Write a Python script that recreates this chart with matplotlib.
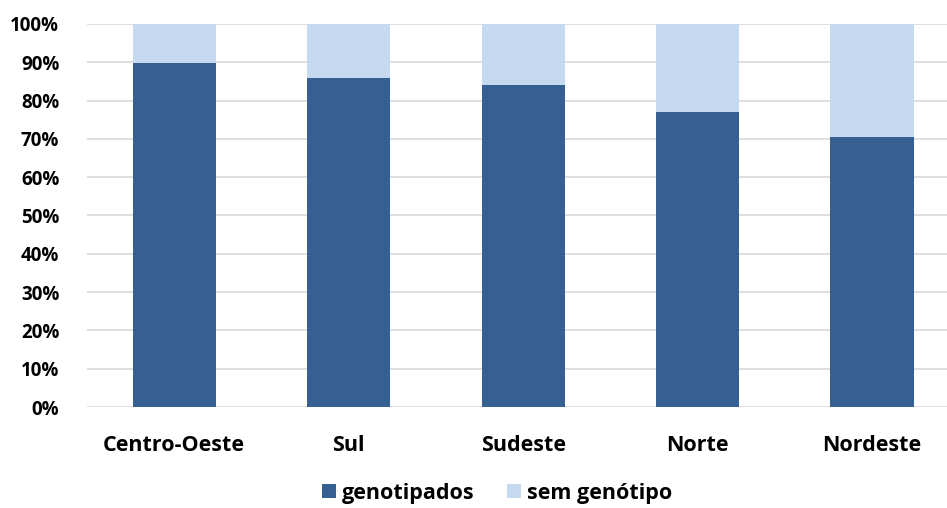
import matplotlib.pyplot as plt
import numpy as np

regioes = ['Centro-Oeste', 'Sul', 'Sudeste', 'Norte', 'Nordeste']
genotipados = [89.8, 85.9, 84.1, 77.0, 70.5]
sem_genotipo = [100 - v for v in genotipados]

plt.rcParams['font.family'] = ['Open Sans', 'DejaVu Sans']
plt.rcParams['font.weight'] = 'bold'

fig = plt.figure(figsize=(9.47, 5.08), dpi=100)
ax = fig.add_axes([0.0919, 0.1988, 0.921, 0.754])

x = np.arange(len(regioes))
ax.bar(x, genotipados, width=0.476, color='#366092', label='genotipados', zorder=3)
ax.bar(x, sem_genotipo, width=0.476, bottom=genotipados, color='#C5D9F1',
       label='sem genótipo', zorder=3)

ax.set_xlim(-0.5, len(regioes) - 0.5)
ax.set_ylim(0, 100)
ax.set_yticks(range(0, 101, 10))
ax.set_yticklabels([f'{v}%' for v in range(0, 101, 10)], fontsize=13.5, fontweight='bold')
ax.set_xticks(x)
ax.set_xticklabels(regioes, fontsize=15.5, fontweight='bold')
ax.tick_params(axis='y', length=0, pad=20)
ax.tick_params(axis='x', length=0, pad=20)
ax.grid(axis='y', color='#D9D9D9', linewidth=1.2, zorder=0)
for s in ax.spines.values():
    s.set_visible(False)

fig.legend(loc='lower center', bbox_to_anchor=(0.525, -0.03), ncol=2, frameon=False,
           handlelength=0.65, handleheight=0.65, handletextpad=0.3,
           columnspacing=1.5, prop={'weight': 'bold', 'size': 15.5})

fig.savefig('out.png', dpi=100)
